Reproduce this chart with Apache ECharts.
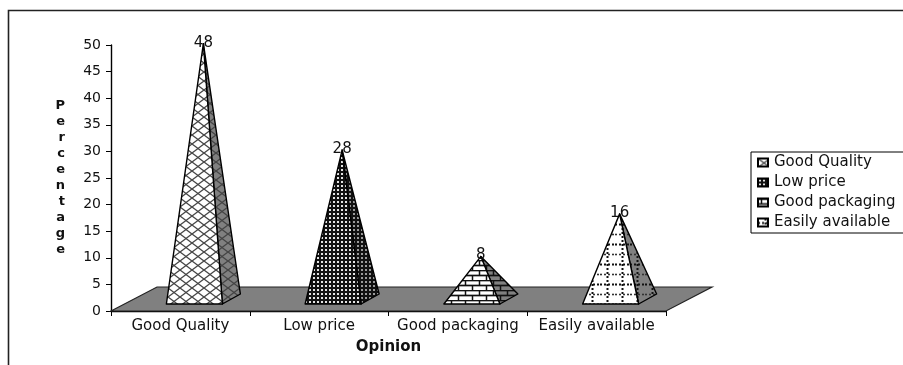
<!DOCTYPE html>
<html>
<head>
<meta charset="utf-8">
<style>html,body{margin:0;padding:0;background:#fff;overflow:hidden}#chart{width:903px;height:365px}</style>
<script src="https://cdn.jsdelivr.net/npm/echarts@6/dist/echarts.min.js"></script>
</head>
<body>
<div id="chart"></div>
<script>
const categories = ['Good Quality', 'Low price', 'Good packaging', 'Easily available'];
const values = [48, 28, 8, 16];
const yTicks = { min: 0, max: 50, interval: 5 };
const FONT = '"DejaVu Sans", Verdana, sans-serif';

// Oblique projection of the 3D floor, in pixels
const DEPTH_X = 46, DEPTH_Y = 24;

function tile(w, h, bg, paint) {
  const c = document.createElement('canvas');
  c.width = w; c.height = h;
  const g = c.getContext('2d');
  g.fillStyle = bg; g.fillRect(0, 0, w, h);
  paint(g, w, h);
  return { image: c, repeat: 'repeat' };
}
function stroke(g, pts, color, width, dash) {
  g.beginPath();
  g.strokeStyle = color; g.lineWidth = width;
  g.setLineDash(dash || []);
  pts.forEach((p, i) => i ? g.lineTo(p[0], p[1]) : g.moveTo(p[0], p[1]));
  g.stroke();
}
function lattice(bg) {
  return tile(12, 9, bg, (g, w, h) => {
    stroke(g, [[0, 0], [w, h]], '#444', 1.3);
    stroke(g, [[0, h], [w, 0]], '#444', 1.3);
  });
}
function mesh(dot) {
  return tile(4, 4, '#111', (g) => { g.fillStyle = dot; g.fillRect(1, 1, 2, 2); });
}
function bricks(bg) {
  return tile(14, 10, bg, (g, w) => {
    stroke(g, [[0, 0.5], [w, 0.5]], '#111', 1.7);
    stroke(g, [[0, 5.5], [w, 5.5]], '#111', 1.7);
    stroke(g, [[3.5, 0], [3.5, 5]], '#111', 1.5);
    stroke(g, [[10.5, 5], [10.5, 10]], '#111', 1.5);
  });
}
function dotted(bg) {
  return tile(15, 20, bg, (g, w, h) => {
    stroke(g, [[7.5, 0], [7.5, h]], '#111', 2, [2, 2]);
    stroke(g, [[0, 4.5], [w, 4.5]], '#111', 2, [2, 2]);
    stroke(g, [[0, 14.5], [w, 14.5]], '#333', 1.6, [2, 2]);
  });
}
const SIDE = '#808080';
const frontFills = [lattice('#fff'), mesh('#e4e4e4'), bricks('#fff'), dotted('#fff')];
const sideFills = [lattice(SIDE), mesh('#9a9a9a'), bricks(SIDE), dotted(SIDE)];

// The floor sits behind the pyramids and runs the full width of the value axis
function renderFloor(params, api) {
  const a = api.coord([0, 0]);
  const w = params.coordSys.width;
  const x0 = params.coordSys.x, y0 = a[1];
  return {
    type: 'polygon',
    shape: { points: [[x0, y0], [x0 + DEPTH_X, y0 - DEPTH_Y], [x0 + w + DEPTH_X, y0 - DEPTH_Y], [x0 + w, y0]] },
    style: { fill: SIDE, stroke: '#222', lineWidth: 1.2 }
  };
}

// Each pyramid stands mid-depth on the floor, its apex at the value on the mid-depth plane
function renderPyramid(idx) {
  return function (params, api) {
    const centre = api.coord([api.value(0), 0]);
    const top = api.coord([api.value(0), api.value(1)]);
    const baseY = centre[1] - 7;
    const backY = baseY - 10;
    const left = centre[0] - 14, right = left + 56, backRight = right + 18;
    const apex = [centre[0] + 23, top[1] - 12];
    const lineStyle = { stroke: '#000', lineWidth: 1.4, lineJoin: 'round' };
    return {
      type: 'group',
      children: [
        { type: 'polygon', shape: { points: [[right, baseY], [backRight, backY], apex] },
          style: Object.assign({ fill: sideFills[idx] }, lineStyle) },
        { type: 'polygon', shape: { points: [[left, baseY], [right, baseY], apex] },
          style: Object.assign({ fill: frontFills[idx] }, lineStyle) },
        { type: 'text', x: apex[0], y: apex[1] - 1,
          style: { text: String(api.value(1)), font: '15px ' + FONT, fill: '#111', align: 'center', verticalAlign: 'middle' } }
      ]
    };
  };
}

const pyramidSeries = categories.map((name, i) => ({
  type: 'custom',
  name: name,
  coordinateSystem: 'cartesian2d',
  renderItem: renderPyramid(i),
  encode: { x: 0, y: 1 },
  clip: false,
  z: 3,
  itemStyle: { color: frontFills[i], borderColor: '#000', borderWidth: 1 },
  data: [[name, values[i]]]
}));

const chart = echarts.init(document.getElementById('chart'), null, { renderer: 'canvas' });
chart.setOption({
  animation: false,
  backgroundColor: '#fff',
  textStyle: { fontFamily: FONT, color: '#111' },
  grid: { left: 111, right: 237, top: 45, bottom: 54 },
  graphic: [{
    type: 'polyline',
    silent: true,
    shape: { points: [[8.5, 365], [8.5, 10.5], [903, 10.5]] },
    style: { stroke: '#222', lineWidth: 1.6, fill: null }
  }],
  legend: {
    orient: 'vertical',
    left: 751,
    top: 152,
    data: categories,
    icon: 'rect',
    itemWidth: 10,
    itemHeight: 8,
    itemGap: 5,
    padding: [3, 20, 3, 6],
    borderColor: '#000',
    borderWidth: 1,
    selectedMode: false,
    textStyle: { fontFamily: FONT, fontSize: 15, color: '#111', padding: [1, 0, 1, 1] }
  },
  xAxis: {
    type: 'category',
    data: categories,
    name: 'Opinion',
    nameLocation: 'middle',
    nameGap: 29,
    nameTextStyle: { fontFamily: FONT, fontSize: 15, fontWeight: 'bold', color: '#111' },
    axisLine: { lineStyle: { color: '#000', width: 1.4 } },
    axisTick: { show: true, length: 5, lineStyle: { color: '#000' } },
    axisLabel: { fontFamily: FONT, fontSize: 15, color: '#111', margin: 8, interval: 0 },
    splitLine: { show: false }
  },
  yAxis: {
    type: 'value',
    min: yTicks.min,
    max: yTicks.max,
    interval: yTicks.interval,
    name: 'Percentage'.split('').join('\n'),
    nameLocation: 'middle',
    nameRotate: 0,
    nameGap: 46,
    nameTextStyle: { fontFamily: FONT, fontSize: 13, fontWeight: 'bold', color: '#111', lineHeight: 16 },
    axisLine: { show: true, lineStyle: { color: '#000', width: 1.4 } },
    axisTick: { show: true, length: 5, lineStyle: { color: '#000' } },
    axisLabel: { fontFamily: FONT, fontSize: 14, color: '#111', margin: 10 },
    splitLine: { show: false }
  },
  series: [{
    type: 'custom',
    coordinateSystem: 'cartesian2d',
    renderItem: renderFloor,
    encode: { x: 0, y: 1 },
    clip: false,
    silent: true,
    z: 1,
    data: [[categories[0], 0]]
  }].concat(pyramidSeries)
});
</script>
</body>
</html>
